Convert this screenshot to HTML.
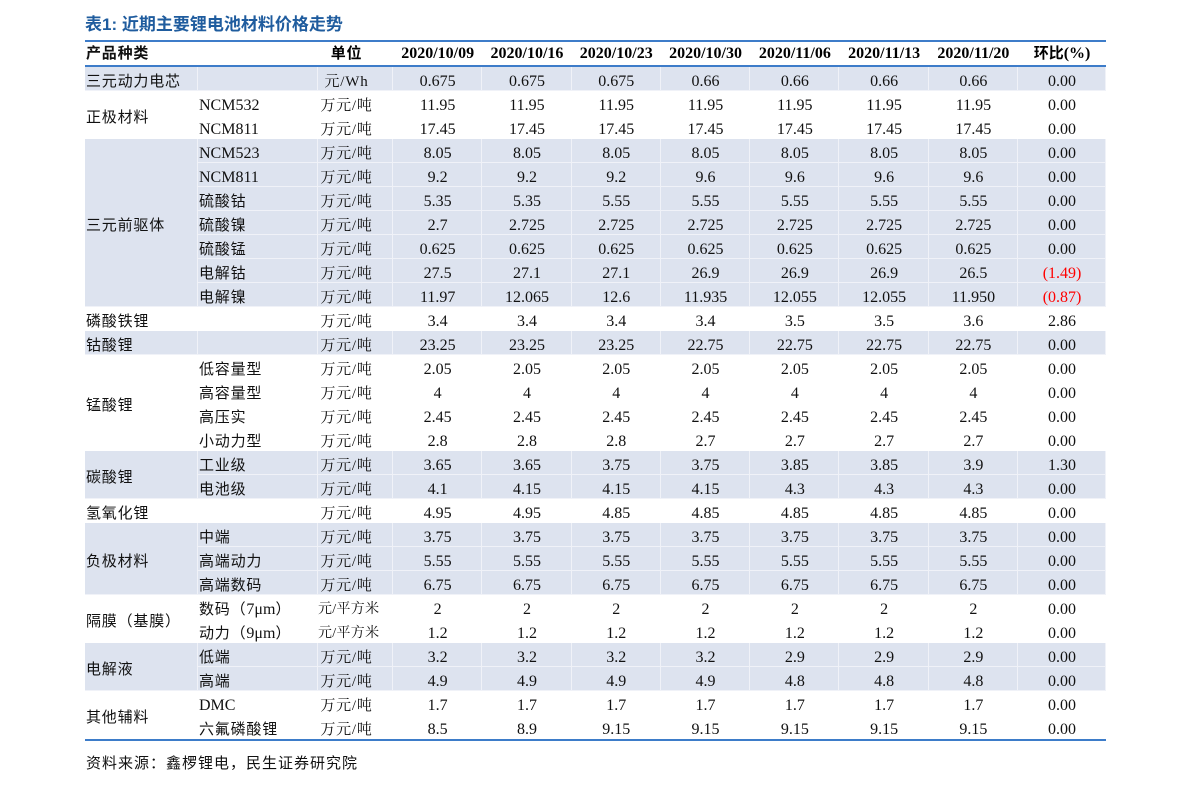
<!DOCTYPE html>
<html>
<head>
<meta charset="utf-8">
<style>
  html,body{margin:0;padding:0;background:#fff;}
  body{width:1191px;height:793px;position:relative;overflow:hidden;}
  .title{position:absolute;left:85px;top:13px;font-family:"Liberation Sans","Noto Sans CJK SC",sans-serif;font-weight:bold;font-size:17px;color:#1f5c9e;white-space:nowrap;line-height:24px;}
  .line{position:absolute;left:85px;width:1021px;height:2px;background:#3d7cc9;}
  table{position:absolute;left:85px;top:42px;border-collapse:separate;border-spacing:0;table-layout:fixed;width:1021px;}
  td{padding:0;white-space:nowrap;vertical-align:middle;overflow:hidden;line-height:18px;}
  tr.h td{height:23px;font-weight:bold;padding-top:0;}
  tr.r td{height:18px;max-height:18px;padding-top:6px;}
  tr.sp td{height:2px;padding:0;font-size:0;line-height:0;}
  .cn{font-family:"Liberation Sans","Noto Sans CJK SC",sans-serif;font-size:15px;letter-spacing:0.8px;}
  .num{font-family:"Liberation Serif","Noto Serif CJK SC",serif;font-size:16px;text-align:center;color:#111;}
  .hd{font-family:"Liberation Serif","Noto Sans CJK SC",serif;font-size:16px;text-align:center;font-weight:bold;}
  .unit{font-family:"Liberation Serif","Noto Serif CJK SC",serif;font-size:15px;letter-spacing:0.8px;text-align:center;padding-right:18px !important;color:#111;}
  .c1{padding-left:1px !important;text-align:left;color:#111;}
  .c2{padding-left:1px !important;text-align:left;color:#111;}
  .ser{font-family:"Liberation Serif",serif;font-size:16px;letter-spacing:0;}
  .red{color:#ff0000;}
  .s td{background:#dde3ef;box-shadow:inset -1px -1px 0 rgba(255,255,255,0.55);}
  .foot{position:absolute;left:86px;top:753px;font-family:"Liberation Sans","Noto Sans CJK SC",sans-serif;font-size:15px;letter-spacing:1px;color:#111;line-height:22px;white-space:nowrap;}
</style>
</head>
<body>
<div class="title">表1:&nbsp;近期主要锂电池材料价格走势</div>
<div class="line" style="top:40px;"></div>
<div class="line" style="top:65px;"></div>
<div class="line" style="top:739px;"></div>
<table>
<colgroup>
<col style="width:113px"><col style="width:120px"><col style="width:75px">
<col style="width:89.3px"><col style="width:89.3px"><col style="width:89.3px"><col style="width:89.3px"><col style="width:89.3px"><col style="width:89.3px"><col style="width:89.3px"><col style="width:87.9px">
</colgroup>
<tr class="h"><td class="cn c1" style="font-weight:bold">产品种类</td><td></td><td class="cn" style="text-align:center;padding-right:18px;font-weight:bold">单位</td><td class="hd">2020/10/09</td><td class="hd">2020/10/16</td><td class="hd">2020/10/23</td><td class="hd">2020/10/30</td><td class="hd">2020/11/06</td><td class="hd">2020/11/13</td><td class="hd">2020/11/20</td><td class="hd"><span style="font-family:'Noto Sans CJK SC',sans-serif;font-size:15px">环比</span>(%)</td></tr>
<tr class="sp"><td colspan="11"></td></tr>
<tr class="r s"><td class="cn c1">三元动力电芯</td><td></td><td class="unit">元/Wh</td><td class="num">0.675</td><td class="num">0.675</td><td class="num">0.675</td><td class="num">0.66</td><td class="num">0.66</td><td class="num">0.66</td><td class="num">0.66</td><td class="num">0.00</td></tr>
<tr class="r"><td class="cn c1" rowspan="2">正极材料</td><td class="c2 ser">NCM532</td><td class="unit">万元/吨</td><td class="num">11.95</td><td class="num">11.95</td><td class="num">11.95</td><td class="num">11.95</td><td class="num">11.95</td><td class="num">11.95</td><td class="num">11.95</td><td class="num">0.00</td></tr>
<tr class="r"><td class="c2 ser">NCM811</td><td class="unit">万元/吨</td><td class="num">17.45</td><td class="num">17.45</td><td class="num">17.45</td><td class="num">17.45</td><td class="num">17.45</td><td class="num">17.45</td><td class="num">17.45</td><td class="num">0.00</td></tr>
<tr class="r s"><td class="cn c1" rowspan="7">三元前驱体</td><td class="c2 ser">NCM523</td><td class="unit">万元/吨</td><td class="num">8.05</td><td class="num">8.05</td><td class="num">8.05</td><td class="num">8.05</td><td class="num">8.05</td><td class="num">8.05</td><td class="num">8.05</td><td class="num">0.00</td></tr>
<tr class="r s"><td class="c2 ser">NCM811</td><td class="unit">万元/吨</td><td class="num">9.2</td><td class="num">9.2</td><td class="num">9.2</td><td class="num">9.6</td><td class="num">9.6</td><td class="num">9.6</td><td class="num">9.6</td><td class="num">0.00</td></tr>
<tr class="r s"><td class="cn c2">硫酸钴</td><td class="unit">万元/吨</td><td class="num">5.35</td><td class="num">5.35</td><td class="num">5.55</td><td class="num">5.55</td><td class="num">5.55</td><td class="num">5.55</td><td class="num">5.55</td><td class="num">0.00</td></tr>
<tr class="r s"><td class="cn c2">硫酸镍</td><td class="unit">万元/吨</td><td class="num">2.7</td><td class="num">2.725</td><td class="num">2.725</td><td class="num">2.725</td><td class="num">2.725</td><td class="num">2.725</td><td class="num">2.725</td><td class="num">0.00</td></tr>
<tr class="r s"><td class="cn c2">硫酸锰</td><td class="unit">万元/吨</td><td class="num">0.625</td><td class="num">0.625</td><td class="num">0.625</td><td class="num">0.625</td><td class="num">0.625</td><td class="num">0.625</td><td class="num">0.625</td><td class="num">0.00</td></tr>
<tr class="r s"><td class="cn c2">电解钴</td><td class="unit">万元/吨</td><td class="num">27.5</td><td class="num">27.1</td><td class="num">27.1</td><td class="num">26.9</td><td class="num">26.9</td><td class="num">26.9</td><td class="num">26.5</td><td class="num red">(1.49)</td></tr>
<tr class="r s"><td class="cn c2">电解镍</td><td class="unit">万元/吨</td><td class="num">11.97</td><td class="num">12.065</td><td class="num">12.6</td><td class="num">11.935</td><td class="num">12.055</td><td class="num">12.055</td><td class="num">11.950</td><td class="num red">(0.87)</td></tr>
<tr class="r"><td class="cn c1">磷酸铁锂</td><td></td><td class="unit">万元/吨</td><td class="num">3.4</td><td class="num">3.4</td><td class="num">3.4</td><td class="num">3.4</td><td class="num">3.5</td><td class="num">3.5</td><td class="num">3.6</td><td class="num">2.86</td></tr>
<tr class="r s"><td class="cn c1">钴酸锂</td><td></td><td class="unit">万元/吨</td><td class="num">23.25</td><td class="num">23.25</td><td class="num">23.25</td><td class="num">22.75</td><td class="num">22.75</td><td class="num">22.75</td><td class="num">22.75</td><td class="num">0.00</td></tr>
<tr class="r"><td class="cn c1" rowspan="4">锰酸锂</td><td class="cn c2">低容量型</td><td class="unit">万元/吨</td><td class="num">2.05</td><td class="num">2.05</td><td class="num">2.05</td><td class="num">2.05</td><td class="num">2.05</td><td class="num">2.05</td><td class="num">2.05</td><td class="num">0.00</td></tr>
<tr class="r"><td class="cn c2">高容量型</td><td class="unit">万元/吨</td><td class="num">4</td><td class="num">4</td><td class="num">4</td><td class="num">4</td><td class="num">4</td><td class="num">4</td><td class="num">4</td><td class="num">0.00</td></tr>
<tr class="r"><td class="cn c2">高压实</td><td class="unit">万元/吨</td><td class="num">2.45</td><td class="num">2.45</td><td class="num">2.45</td><td class="num">2.45</td><td class="num">2.45</td><td class="num">2.45</td><td class="num">2.45</td><td class="num">0.00</td></tr>
<tr class="r"><td class="cn c2">小动力型</td><td class="unit">万元/吨</td><td class="num">2.8</td><td class="num">2.8</td><td class="num">2.8</td><td class="num">2.7</td><td class="num">2.7</td><td class="num">2.7</td><td class="num">2.7</td><td class="num">0.00</td></tr>
<tr class="r s"><td class="cn c1" rowspan="2">碳酸锂</td><td class="cn c2">工业级</td><td class="unit">万元/吨</td><td class="num">3.65</td><td class="num">3.65</td><td class="num">3.75</td><td class="num">3.75</td><td class="num">3.85</td><td class="num">3.85</td><td class="num">3.9</td><td class="num">1.30</td></tr>
<tr class="r s"><td class="cn c2">电池级</td><td class="unit">万元/吨</td><td class="num">4.1</td><td class="num">4.15</td><td class="num">4.15</td><td class="num">4.15</td><td class="num">4.3</td><td class="num">4.3</td><td class="num">4.3</td><td class="num">0.00</td></tr>
<tr class="r"><td class="cn c1">氢氧化锂</td><td></td><td class="unit">万元/吨</td><td class="num">4.95</td><td class="num">4.95</td><td class="num">4.85</td><td class="num">4.85</td><td class="num">4.85</td><td class="num">4.85</td><td class="num">4.85</td><td class="num">0.00</td></tr>
<tr class="r s"><td class="cn c1" rowspan="3">负极材料</td><td class="cn c2">中端</td><td class="unit">万元/吨</td><td class="num">3.75</td><td class="num">3.75</td><td class="num">3.75</td><td class="num">3.75</td><td class="num">3.75</td><td class="num">3.75</td><td class="num">3.75</td><td class="num">0.00</td></tr>
<tr class="r s"><td class="cn c2">高端动力</td><td class="unit">万元/吨</td><td class="num">5.55</td><td class="num">5.55</td><td class="num">5.55</td><td class="num">5.55</td><td class="num">5.55</td><td class="num">5.55</td><td class="num">5.55</td><td class="num">0.00</td></tr>
<tr class="r s"><td class="cn c2">高端数码</td><td class="unit">万元/吨</td><td class="num">6.75</td><td class="num">6.75</td><td class="num">6.75</td><td class="num">6.75</td><td class="num">6.75</td><td class="num">6.75</td><td class="num">6.75</td><td class="num">0.00</td></tr>
<tr class="r"><td class="cn c1" rowspan="2">隔膜（基膜）</td><td class="cn c2">数码（<span class="ser">7μm</span>）</td><td class="unit" style="font-size:14px;letter-spacing:0.3px">元/平方米</td><td class="num">2</td><td class="num">2</td><td class="num">2</td><td class="num">2</td><td class="num">2</td><td class="num">2</td><td class="num">2</td><td class="num">0.00</td></tr>
<tr class="r"><td class="cn c2">动力（<span class="ser">9μm</span>）</td><td class="unit" style="font-size:14px;letter-spacing:0.3px">元/平方米</td><td class="num">1.2</td><td class="num">1.2</td><td class="num">1.2</td><td class="num">1.2</td><td class="num">1.2</td><td class="num">1.2</td><td class="num">1.2</td><td class="num">0.00</td></tr>
<tr class="r s"><td class="cn c1" rowspan="2">电解液</td><td class="cn c2">低端</td><td class="unit">万元/吨</td><td class="num">3.2</td><td class="num">3.2</td><td class="num">3.2</td><td class="num">3.2</td><td class="num">2.9</td><td class="num">2.9</td><td class="num">2.9</td><td class="num">0.00</td></tr>
<tr class="r s"><td class="cn c2">高端</td><td class="unit">万元/吨</td><td class="num">4.9</td><td class="num">4.9</td><td class="num">4.9</td><td class="num">4.9</td><td class="num">4.8</td><td class="num">4.8</td><td class="num">4.8</td><td class="num">0.00</td></tr>
<tr class="r"><td class="cn c1" rowspan="2">其他辅料</td><td class="c2 ser">DMC</td><td class="unit">万元/吨</td><td class="num">1.7</td><td class="num">1.7</td><td class="num">1.7</td><td class="num">1.7</td><td class="num">1.7</td><td class="num">1.7</td><td class="num">1.7</td><td class="num">0.00</td></tr>
<tr class="r"><td class="cn c2">六氟磷酸锂</td><td class="unit">万元/吨</td><td class="num">8.5</td><td class="num">8.9</td><td class="num">9.15</td><td class="num">9.15</td><td class="num">9.15</td><td class="num">9.15</td><td class="num">9.15</td><td class="num">0.00</td></tr>
</table>
<div class="foot">资料来源：鑫椤锂电，民生证券研究院</div>
</body>
</html>
